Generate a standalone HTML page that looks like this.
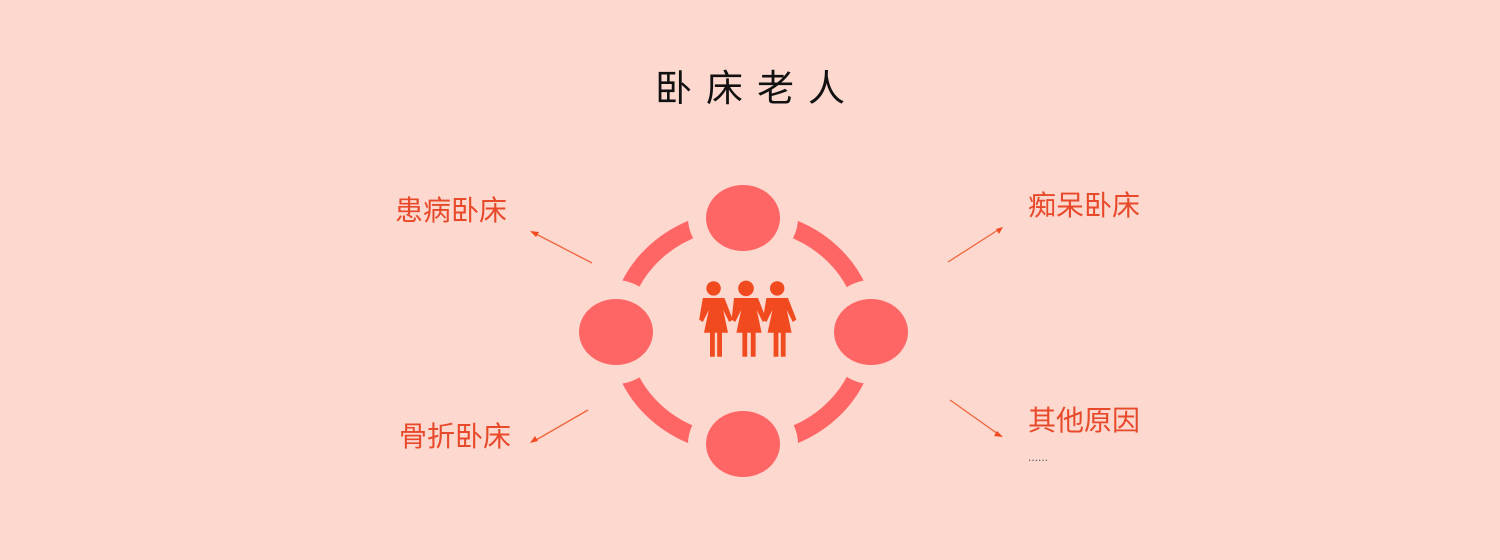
<!DOCTYPE html>
<html><head><meta charset="utf-8"><style>
html,body{margin:0;padding:0;background:#fdd8cf;}
svg{display:block}
text{font-family:"Liberation Sans","Noto Sans CJK SC",sans-serif;}
</style></head><body>
<svg width="1500" height="560" viewBox="0 0 1500 560">
<rect width="1500" height="560" fill="#fdd8cf"/>
<text x="757" y="101" font-size="37" text-anchor="middle" fill="#111" letter-spacing="14">卧床老人</text>
<ellipse cx="743" cy="332" rx="124" ry="113" fill="none" stroke="#fe6666" stroke-width="18"/>
<g fill="#fdd8cf">
<ellipse cx="743" cy="218" rx="55" ry="48"/>
<ellipse cx="743" cy="444" rx="55" ry="48"/>
<ellipse cx="616" cy="332" rx="48" ry="52"/>
<ellipse cx="871" cy="332" rx="48" ry="52"/>
</g>
<g fill="#fe6666">
<ellipse cx="743" cy="218" rx="37" ry="33"/>
<ellipse cx="743" cy="444" rx="37" ry="33"/>
<ellipse cx="616" cy="332" rx="37" ry="33"/>
<ellipse cx="871" cy="332" rx="37" ry="33"/>
</g>
<g fill="#f04a1e" transform="translate(746 322) scale(1.2) translate(-746 -322)">
<g id="p"><circle cx="719" cy="294" r="6"/><path d="M710 302 h18 l7 18 l-3 2 l-5 -10 l4 19 h-5 v20 h-4 v-20 h-2 v20 h-4 v-20 h-5 l4 -19 l-5 10 l-3 -2 z"/></g>
<use href="#p" x="53"/>
<g><circle cx="746" cy="294" r="6.5"/><path d="M736 302 h20 l7 18 l-3 2 l-5 -10 l4 19 h-5 v20 h-4 v-20 h-3 v20 h-4 v-20 h-5 l4 -19 l-5 10 l-3 -2 z"/></g>
</g>
<g stroke="#f0643c" stroke-width="1.3" fill="#f04a1e">
<line x1="592" y1="263" x2="536" y2="234"/>
<line x1="588" y1="410" x2="536" y2="440"/>
<line x1="948" y1="262" x2="998" y2="230"/>
<line x1="950" y1="400" x2="998" y2="434"/>
</g>
<g fill="#f04a1e">
<path d="M530 231 l9 1 l-3 5 z"/>
<path d="M530 443 l5 -7 l3 5 z"/>
<path d="M1003 227 l-4 7 l-3 -5 z"/>
<path d="M1003 437 l-9 -1 l3 -5 z"/>
</g>
<g fill="#e8492a" font-size="28">
<text x="395" y="220">患病卧床</text>
<text x="399" y="446">骨折卧床</text>
<text x="1028" y="215">痴呆卧床</text>
<text x="1028" y="430">其他原因</text>
</g>
<text x="1028" y="461" font-size="12" fill="#555">......</text>
</svg>
</body></html>
